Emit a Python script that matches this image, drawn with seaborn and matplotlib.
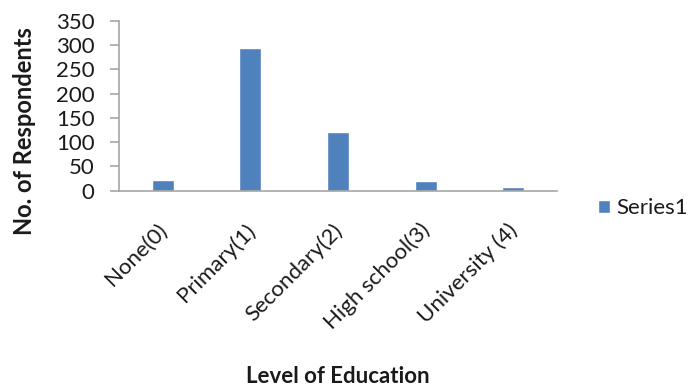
import matplotlib
matplotlib.use("Agg")
import matplotlib.pyplot as plt
import matplotlib.transforms as mtransforms
import seaborn as sns
import pandas as pd

# Respondents by level of education
levels = ["None(0)", "Primary(1)", "Secondary(2)", "High school(3)", "University (4)"]
respondents = [22, 293, 121, 20, 8]
series_name = "Series1"

bar_color = "#4F81BD"
axis_color = "#A6A6A6"
text_color = "#1A1A1A"
fs = 16

sns.set_style("white")
plt.rcParams["font.family"] = ["Lato", "DejaVu Sans"]

df = pd.DataFrame({"level": levels, "count": respondents})

fig = plt.figure(figsize=(6.89, 3.87), dpi=100)
ax = fig.add_axes([0.1727, 0.5072, 0.8084 - 0.1727, 0.9465 - 0.5072])

sns.barplot(data=df, x="level", y="count", color=bar_color, width=0.25,
            saturation=1, label=series_name, ax=ax)

ax.set_ylim(0, 350)
ax.set_yticks(range(0, 351, 50))
ax.set_xlim(-0.5, len(levels) - 0.5)

for side in ("top", "right"):
    ax.spines[side].set_visible(False)
for side in ("left", "bottom"):
    ax.spines[side].set_color(axis_color)
    ax.spines[side].set_linewidth(1.2)

ax.tick_params(axis="y", length=6.5, width=1.2, color=axis_color, pad=11,
               labelsize=fs, labelcolor=text_color, left=True)
ax.tick_params(axis="x", length=0, pad=21, labelsize=fs, labelcolor=text_color)

# slanted category labels, ending just left of each category centre
shift = mtransforms.ScaledTranslation(-4.3 / 72, 0, fig.dpi_scale_trans)
for lbl in ax.get_xticklabels():
    lbl.set_rotation(45)
    lbl.set_ha("right")
    lbl.set_va("top")
    lbl.set_rotation_mode("anchor")
    lbl.set_transform(lbl.get_transform() + shift)

ax.set_xlabel("Level of Education", fontsize=fs, fontweight="bold", color=text_color)
ax.set_ylabel("No. of Respondents", fontsize=17, fontweight="bold", color=text_color)
ax.xaxis.set_label_coords(0.5, -1.09)
ax.yaxis.set_label_coords(-0.215, 0.351)
ax.yaxis.label.set_va("center")
ax.xaxis.label.set_va("center")

ax.legend(loc="center left", bbox_to_anchor=(0.868, 0.462),
          bbox_transform=fig.transFigure, frameon=False, fontsize=fs,
          labelcolor=text_color, borderpad=0, borderaxespad=0,
          handlelength=0.55, handleheight=0.55, handletextpad=0.25)

fig.savefig("out.png", dpi=100)
